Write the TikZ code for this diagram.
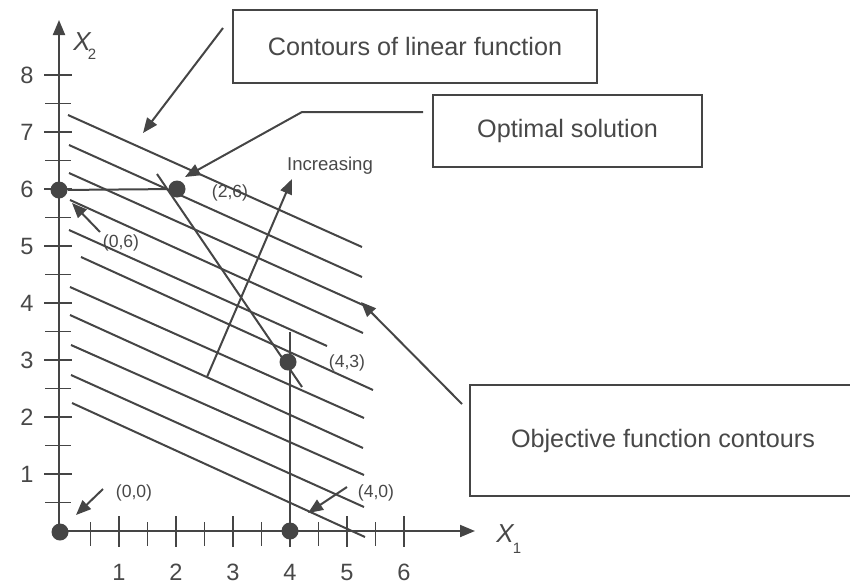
\documentclass[tikz,border=0pt]{standalone}
\usepackage{fontspec}
\setmainfont{Liberation Sans}
\usetikzlibrary{arrows.meta}
\definecolor{lc}{HTML}{454545}
\definecolor{tc}{HTML}{484848}
\begin{document}
\begin{tikzpicture}[x=0.5pt,y=-0.5pt,
  ln/.style={draw=lc, line width=1pt},
  tk/.style={draw=lc, line width=0.9pt},
  arr/.style={draw=lc, line width=1pt, -{Triangle[length=7.5pt,width=6pt]}},
  dot/.style={circle, fill=lc, inner sep=0pt, minimum size=8.5pt},
  num/.style={inner sep=0pt, text=tc, font=\fontsize{11.8}{13}\selectfont},
  lab/.style={inner sep=0pt, text=tc, font=\fontsize{8.8}{10}\selectfont},
  box/.style={draw=lc, line width=1pt, inner sep=0pt, text=tc, font=\fontsize{12.6}{15}\selectfont},
  axl/.style={inner sep=0pt, text=tc, font=\fontsize{13}{14}\selectfont\itshape},
  sub/.style={inner sep=0pt, text=tc, font=\fontsize{7.5}{9}\selectfont}]
\useasboundingbox (0,0) rectangle (850,584);

% axes
\coordinate (O) at (59,531);
\coordinate (xend) at (475,531);
\coordinate (yend) at (59,20);
\draw[arr] (O) -- (xend);
\draw[arr] (O) -- (yend);

% x ticks
\foreach \i in {1,...,6} {
  \draw[tk] ({62+57*\i},516) -- ({62+57*\i},547);
  \node[num] (xl\i) at ({62+57*\i},572) {\i};
}
\foreach \i in {0,...,5} {
  \draw[tk] ({90.5+57*\i},522) -- ({90.5+57*\i},546);
}
% y ticks
\foreach \i in {1,...,8} {
  \draw[tk] (44,{531-57*\i}) -- (72,{531-57*\i});
  \node[num, anchor=east] (yl\i) at (34,{531-57*\i}) {\i};
}
\foreach \i in {0,...,7} {
  \draw[tk] (45,{502.5-57*\i}) -- (71,{502.5-57*\i});
}

% axis labels
\node[axl] (X2) at (82,42) {X};
\node[sub] (X2s) at (92,54) {2};
\node[axl] (X1) at (505,534) {X};
\node[sub] (X1s) at (517,548) {1};

% contour lines
\foreach \a/\b/\c/\d in {68/115/362/247, 69/145/362/277, 69/173/363/305, 70/200/363/333,
  69/230/327/346, 81/257/373/390, 70/287/364/418, 70/315/363/448, 71/345/364/475,
  71/375/364/507, 72/403/365/537} {
  \draw[ln] (\a,\b) -- (\c,\d);
}

% constraint lines
\coordinate (cs) at (157,174);
\coordinate (ce) at (302,387);
\draw[ln] (cs) -- (ce);
\coordinate (vt) at (290,332);
\coordinate (vb) at (290,531);
\draw[ln] (vb) -- (vt);

% dots
\node[dot] (p00) at (60,532) {};
\node[dot] (p06) at (59,190) {};
\node[dot] (p26) at (177,189) {};
\node[dot] (p43) at (288,362) {};
\node[dot] (p40) at (290,531) {};
\draw[ln] (p06) -- (p26);

% increasing arrow
\coordinate (is) at (207,377);
\coordinate (ie) at (292,179);
\draw[arr] (is) -- (ie);
\node[lab, font=\fontsize{9.3}{11}\selectfont] (inc) at (330,166) {Increasing};

% point labels
\node[lab] (l26) at (230,193) {(2,6)};
\node[lab] (l06) at (121,243) {(0,6)};
\node[lab] (l00) at (134,493) {(0,0)};
\node[lab] (l43) at (347,363) {(4,3)};
\node[lab] (l40) at (376,493) {(4,0)};

% small arrows
\coordinate (a06t) at (100,232);
\coordinate (a06h) at (72,203);
\draw[arr] (a06t) -- (a06h);
\coordinate (a00t) at (103,489);
\coordinate (a00h) at (76,515);
\draw[arr] (a00t) -- (a00h);
\coordinate (a40t) at (347,487);
\coordinate (a40h) at (308,513);
\draw[arr] (a40t) -- (a40h);

% boxes
\node[box, minimum width=182pt, minimum height=36.5pt] (b1) at (415,46.5) {Contours of linear function};
\node[box, minimum width=134.5pt, minimum height=36pt] (b2) at (567.5,131) {Optimal solution};
\node[box, minimum width=193pt, minimum height=55.5pt] (b3) at (663,440.5) {Objective function contours};

% callout arrows
\coordinate (c1t) at (223,28);
\coordinate (c1h) at (143,133);
\draw[arr] (c1t) -- (c1h);
\coordinate (o1) at (423,112);
\coordinate (o2) at (302,112);
\coordinate (o3) at (185,177);
\draw[arr] (o1) -- (o2) -- (o3);
\coordinate (c3t) at (462,404);
\coordinate (c3h) at (361,302);
\draw[arr] (c3t) -- (c3h);
\end{tikzpicture}
\end{document}
